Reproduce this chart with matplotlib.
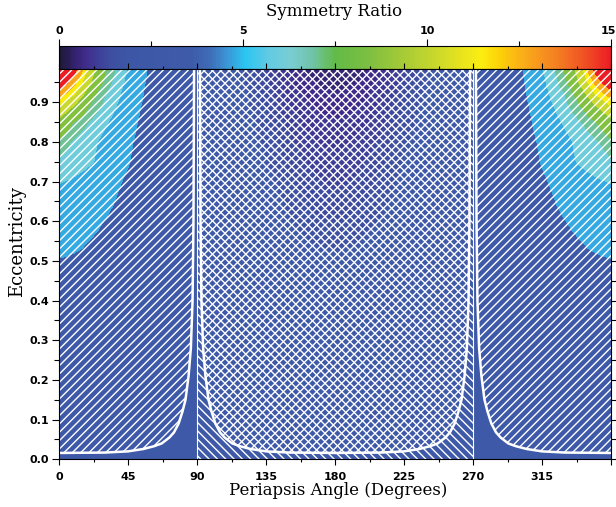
import numpy as np
import matplotlib
matplotlib.use("Agg")
import matplotlib.pyplot as plt
from matplotlib.colors import LinearSegmentedColormap, Normalize
from matplotlib.ticker import MultipleLocator, FormatStrFormatter
from matplotlib.font_manager import FontProperties
from matplotlib.transforms import ScaledTranslation
from matplotlib.cm import ScalarMappable

plt.rcParams['hatch.color'] = 'white'
plt.rcParams['hatch.linewidth'] = 1.0

# colour stops: (value, colour)
bar_values = [0.0, 0.3, 0.65, 1.0, 1.4, 1.9, 3.6, 4.1, 4.6, 5.05, 5.7, 6.3, 6.9,
              7.5, 8.4, 9.3, 10.2, 10.9, 11.5, 12.0, 12.75, 13.6, 14.4, 15.0]
bar_colors = ['#1d1838', '#2e1f5f', '#3f2a8a', '#3e3c96', '#3d4fa1', '#3d57a6',
              '#3e5ba9', '#3f6db7', '#3a9ad8', '#2bc4f1', '#62cbe4', '#79cdd2',
              '#70c3a5', '#62bb47', '#7cbf42', '#a4ca37', '#c7d72d', '#e6e31e',
              '#fbee10', '#fdd008', '#f9a71a', '#f47c22', '#ef4b24', '#ec1c24']

# filled contour levels of the symmetry ratio
levels = [0, 0.2, 0.4, 0.6, 0.8, 1.0, 1.2, 1.4, 1.6, 4, 5.5, 6.5, 7.5, 9.5, 11, 12, 13.5, 30]

# periapsis angle columns 0..180 deg (the plot is mirrored about 180)
omega_half = [0, 5, 10, 15, 20, 25, 30, 35, 40, 45, 50, 55, 60, 70, 80, 90,
              100, 110, 120, 130, 140, 150, 160, 170, 180]
ecc_rows = [0.0, 0.2, 0.4, 0.5, 0.55, 0.6, 0.65, 0.7, 0.75, 0.8, 0.85, 0.9, 0.92, 0.95, 0.99]

# symmetry ratio estimated from the colours, one row per eccentricity
ratio_half = [
    [2.0, 2.0, 2.0, 2.0, 2.0, 2.0, 2.0, 2.0, 2.0, 2.0, 2.0, 2.0, 2.0, 2.0, 2.0, 2.0,
     2.0, 2.0, 2.0, 2.0, 2.0, 2.0, 2.0, 2.0, 2.0],
    [2.5, 2.5, 2.48, 2.47, 2.45, 2.43, 2.4, 2.37, 2.33, 2.3, 2.27, 2.23, 2.2, 2.13, 2.06, 2.0,
     2.0, 2.0, 1.99, 1.98, 1.97, 1.96, 1.95, 1.95, 1.95],
    [3.3, 3.28, 3.25, 3.2, 3.15, 3.1, 3.05, 2.98, 2.9, 2.82, 2.74, 2.65, 2.55, 2.35, 2.15, 2.0,
     2.0, 1.98, 1.96, 1.94, 1.92, 1.89, 1.86, 1.84, 1.83],
    [3.95, 3.92, 3.88, 3.82, 3.75, 3.65, 3.55, 3.45, 3.3, 3.2, 3.05, 2.95, 2.8, 2.45, 2.15, 2.0,
     1.98, 1.96, 1.93, 1.89, 1.84, 1.78, 1.72, 1.68, 1.66],
    [4.3, 4.25, 4.18, 4.1, 3.98, 3.85, 3.7, 3.55, 3.4, 3.3, 3.15, 3.0, 2.85, 2.5, 2.15, 2.0,
     1.98, 1.95, 1.91, 1.86, 1.79, 1.7, 1.62, 1.56, 1.54],
    [4.7, 4.65, 4.55, 4.45, 4.3, 4.15, 3.97, 3.8, 3.6, 3.45, 3.3, 3.1, 2.95, 2.55, 2.2, 2.0,
     1.97, 1.94, 1.89, 1.82, 1.73, 1.62, 1.5, 1.42, 1.4],
    [5.1, 5.05, 4.95, 4.85, 4.7, 4.55, 4.35, 4.06, 3.8, 3.6, 3.4, 3.2, 3.0, 2.6, 2.2, 2.0,
     1.97, 1.93, 1.87, 1.78, 1.67, 1.53, 1.4, 1.3, 1.27],
    [5.55, 5.45, 5.35, 5.2, 5.0, 4.8, 4.6, 4.35, 4.05, 3.8, 3.55, 3.35, 3.1, 2.65, 2.25, 2.0,
     1.96, 1.91, 1.84, 1.74, 1.6, 1.45, 1.3, 1.2, 1.16],
    [6.3, 6.1, 5.95, 5.8, 5.62, 5.4, 5.05, 4.75, 4.4, 4.08, 3.75, 3.5, 3.2, 2.7, 2.3, 2.05,
     1.95, 1.9, 1.81, 1.69, 1.53, 1.35, 1.2, 1.1, 1.06],
    [7.2, 6.7, 6.3, 6.0, 5.75, 5.5, 5.2, 4.9, 4.55, 4.2, 3.9, 3.6, 3.3, 2.75, 2.3, 2.05,
     1.95, 1.88, 1.78, 1.63, 1.45, 1.25, 1.08, 0.98, 0.95],
    [9.0, 8.2, 7.4, 6.9, 6.42, 6.0, 5.65, 5.3, 4.95, 4.6, 4.1, 3.7, 3.4, 2.8, 2.35, 2.1,
     1.93, 1.85, 1.73, 1.56, 1.35, 1.13, 0.95, 0.85, 0.82],
    [11.4, 10.7, 9.85, 8.8, 7.7, 6.95, 6.3, 5.8, 5.35, 4.9, 4.4, 3.9, 3.55, 2.9, 2.4, 2.1,
     1.92, 1.83, 1.68, 1.48, 1.25, 1.0, 0.82, 0.72, 0.68],
    [12.7, 11.7, 11.0, 9.75, 8.5, 7.3, 6.5, 6.0, 5.5, 5.0, 4.5, 4.0, 3.6, 2.9, 2.4, 2.1,
     1.91, 1.82, 1.66, 1.44, 1.2, 0.94, 0.75, 0.65, 0.62],
    [14.8, 13.7, 12.3, 11.0, 9.75, 8.3, 7.1, 6.4, 5.75, 5.2, 4.65, 4.1, 3.7, 3.0, 2.5, 2.2,
     1.9, 1.8, 1.63, 1.38, 1.12, 0.86, 0.66, 0.56, 0.53],
    [18.0, 16.5, 14.5, 12.5, 10.6, 9.2, 7.8, 6.8, 6.1, 5.4, 4.8, 4.2, 3.8, 3.0, 2.5, 2.2,
     1.9, 1.78, 1.58, 1.3, 1.02, 0.76, 0.55, 0.45, 0.42],
]

# thick white boundary curve, read for 0..90 deg (mirrored to the other branches)
curve_omega = [0, 30, 45, 55, 62, 67, 72, 75, 78, 80.5, 82.5, 84.5, 86, 87.1, 87.7, 88.1, 88.3]
curve_ecc = [0.016, 0.017, 0.020, 0.026, 0.033, 0.040, 0.055, 0.068, 0.09, 0.12,
             0.15, 0.21, 0.28, 0.40, 0.60, 0.98, 1.05]

x_ticks = [0, 45, 90, 135, 180, 225, 270, 315, 360]
x_tick_labels = ['0', '45', '90', '135', '180', '225', '270', '315', '']
bar_ticks = [0, 5, 10, 15]
bar_tick_labels = ['0', '5', '10', '15']

# full grid, mirrored about 180 deg
omega_full = np.concatenate([omega_half, 360 - np.array(omega_half[-2::-1])])
ratio_arr = np.array(ratio_half)
ratio_full = np.hstack([ratio_arr, ratio_arr[:, -2::-1]])

cmap = LinearSegmentedColormap.from_list(
    'sym', [(v / 15.0, c) for v, c in zip(bar_values, bar_colors)])
norm = Normalize(vmin=0, vmax=15)

W, H = 616, 507
fig = plt.figure(figsize=(W / 100, H / 100), dpi=100)
ax = fig.add_axes([59 / W, 1 - 459.3 / H, 552 / W, 390.3 / H])
cax = fig.add_axes([59 / W, 1 - 69 / H, 552 / W, 23 / H])
# keep the main plot's top ticks visible over the colour bar
ax.set_zorder(2)
cax.set_zorder(1)

ax.contourf(omega_full, ecc_rows, ratio_full, levels=levels, cmap=cmap, norm=norm)

top = 1.05
# back-slash hatching between 90 and 270 degrees
ax.fill_between([90, 270], 0, top, facecolor='none', edgecolor='white',
                linewidth=0, hatch='\\\\\\\\')

co = list(curve_omega)
ce = list(curve_ecc)
branches = [
    (co, ce),
    ([180 - w for w in co[::-1]] + [180 + w for w in co[1:]], ce[::-1] + ce[1:]),
    ([360 - w for w in co[::-1]], ce[::-1]),
]
for xs, ys in branches:
    ax.fill_between(xs, ys, top, facecolor='none', edgecolor='white',
                    linewidth=0, hatch='////')
for xs, ys in branches:
    ax.plot(xs, ys, color='white', lw=1.8)
ax.axvline(90, color='white', lw=0.8)
ax.axvline(270, color='white', lw=0.8)

ax.set_xlim(0, 360)
ax.set_ylim(0, 0.984)

tick_font = dict(family='DejaVu Sans', weight='bold', size=8)
ax.set_xticks(x_ticks)
ax.set_xticklabels(x_tick_labels, **tick_font)
ax.xaxis.set_minor_locator(MultipleLocator(22.5))
ax.set_yticks(np.arange(0, 0.95, 0.1))
ax.yaxis.set_major_formatter(FormatStrFormatter('%.1f'))
for lab in ax.get_yticklabels():
    lab.set_fontproperties(FontProperties(**tick_font))
ax.yaxis.set_minor_locator(MultipleLocator(0.05))
ax.tick_params(which='both', direction='out', top=True, right=True, width=0.8)
ax.tick_params(axis='x', which='major', length=4.3, pad=5)
ax.tick_params(axis='x', which='minor', length=2.5)
ax.tick_params(axis='y', which='major', length=5, pad=2)
ax.tick_params(axis='y', which='minor', length=3.4)
for sp in ax.spines.values():
    sp.set_linewidth(0.8)

title_font = dict(family='DejaVu Serif')
ax.set_xlabel('Periapsis Angle (Degrees)', size=12, va='center', **title_font)
ax.xaxis.set_label_coords(0.506, -0.081)
ax.set_ylabel('Eccentricity', size=13, va='center', **title_font)
ax.yaxis.set_label_coords(-0.076, 0.557)

sm = ScalarMappable(norm=norm, cmap=cmap)
cb = fig.colorbar(sm, cax=cax, orientation='horizontal')
cb.set_ticks(bar_ticks)
cb.minorlocator = MultipleLocator(2.5)
cax.xaxis.set_ticks_position('top')
cax.xaxis.set_label_position('top')
cax.tick_params(which='both', direction='out', width=0.8)
cax.tick_params(which='major', length=4.8, pad=2.5)
cax.tick_params(which='minor', length=3.6)
cax.set_xticklabels(bar_tick_labels, **tick_font)
# nudge the last label so it stays inside the figure
last = cax.get_xticklabels()[-1]
last.set_transform(last.get_transform() + ScaledTranslation(-3 / 100, 0, fig.dpi_scale_trans))
cb.outline.set_linewidth(0.8)
cb.set_label('Symmetry Ratio', size=12, va='center', **title_font)
cax.xaxis.set_label_coords(0.499, 2.52)

fig.savefig('out.png', dpi=100)
